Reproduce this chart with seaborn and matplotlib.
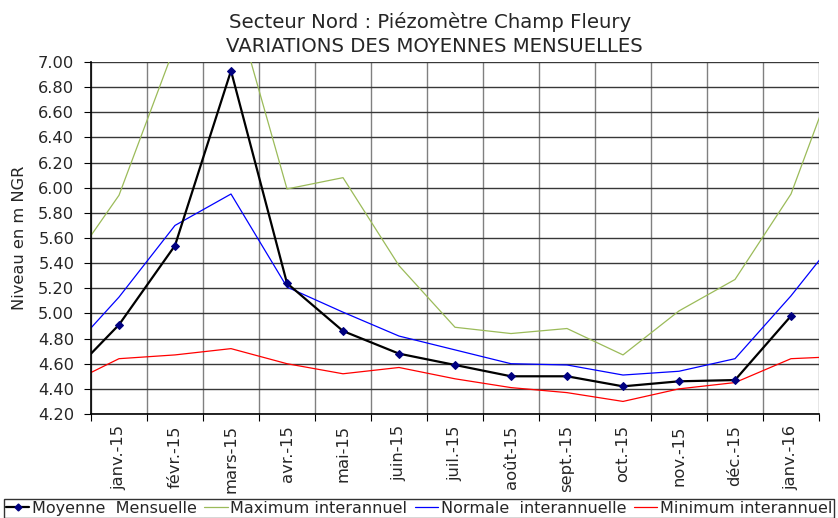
import numpy as np
import pandas as pd
import matplotlib
matplotlib.use("Agg")
from matplotlib import pyplot as plt
from matplotlib.lines import Line2D
import seaborn as sns

# months (déc.-14 and févr.-16 only serve the line ends, clipped by the axis)
mois = ["déc.-14", "janv.-15", "févr.-15", "mars-15", "avr.-15", "mai-15", "juin-15",
        "juil.-15", "août-15", "sept.-15", "oct.-15", "nov.-15", "déc.-15", "janv.-16", "févr.-16"]
tick_labels = mois[1:-1]

moyenne = [4.45, 4.91, 5.54, 6.93, 5.24, 4.86, 4.68, 4.59, 4.50, 4.50, 4.42, 4.46, 4.47, 4.98, np.nan]
maximum = [5.30, 5.94, 7.13, 7.56, 5.99, 6.08, 5.38, 4.89, 4.84, 4.88, 4.67, 5.02, 5.27, 5.95, 7.15]
normale = [4.64, 5.13, 5.70, 5.95, 5.21, 5.01, 4.82, 4.71, 4.60, 4.59, 4.51, 4.54, 4.64, 5.14, 5.70]
minimum = [4.42, 4.64, 4.67, 4.72, 4.60, 4.52, 4.57, 4.48, 4.41, 4.37, 4.30, 4.40, 4.45, 4.64, 4.66]

df = pd.DataFrame({"pos": np.arange(len(mois)) - 1, "mois": mois,
                   "moyenne": moyenne, "maximum": maximum,
                   "normale": normale, "minimum": minimum})

sns.set_style("white")
plt.rcParams["font.family"] = ["DejaVu Sans"]

my_dpi = 100
fig = plt.figure(figsize=(838 / my_dpi, 518 / my_dpi), dpi=my_dpi)
ax = fig.add_axes([91 / 838, 1 - 414 / 518, (819 - 91) / 838, (414 - 62) / 518])

green = "#9BBB59"
sns.lineplot(data=df, x="pos", y="maximum", color=green, lw=0.9, ax=ax)
sns.lineplot(data=df, x="pos", y="normale", color="#0000FF", lw=0.9, ax=ax)
sns.lineplot(data=df, x="pos", y="minimum", color="#FF0000", lw=0.9, ax=ax)
sns.lineplot(data=df, x="pos", y="moyenne", color="black", lw=1.6, ax=ax,
             marker="D", markersize=4.5, markerfacecolor="#000080", markeredgecolor="#000080")

ax.set_xlim(-0.5, len(tick_labels) - 0.5)
ax.set_ylim(4.2, 7.0)
ax.set_yticks(np.arange(4.2, 7.01, 0.2))
ax.set_yticklabels([f"{v:.2f}" for v in np.arange(4.2, 7.01, 0.2)], fontsize=11.7)
ax.set_xticks(np.arange(len(tick_labels) + 1) - 0.5)
ax.set_xticklabels([])
ax.set_xticks(np.arange(len(tick_labels)), minor=True)
ax.set_xticklabels(tick_labels, minor=True, rotation=90, fontsize=11.8)
ax.tick_params(axis="x", which="minor", length=0, pad=8)
ax.tick_params(axis="x", which="major", length=5, direction="out", color="black", bottom=True)
ax.tick_params(axis="y", length=5, direction="out", color="black", left=True, pad=7)
ax.grid(axis="y", color="#383838", lw=1)
ax.grid(axis="x", which="major", color="#808080", lw=1)
ax.set_axisbelow(True)
for s in ["top", "right"]:
    ax.spines[s].set_visible(False)
for s in ["left", "bottom"]:
    ax.spines[s].set_color("black")
    ax.spines[s].set_linewidth(1.2)
ax.set_xlabel("")
ax.set_ylabel("")

fig.text(20 / 838, 1 - 238 / 518, "Niveau en m NGR", rotation=90, ha="center", va="center", fontsize=11.7)
fig.text(430 / 838, 1 - 22 / 518, "Secteur Nord : Piézomètre Champ Fleury", ha="center", va="center", fontsize=14.2)
fig.text(434 / 838, 1 - 47 / 518, "VARIATIONS DES MOYENNES MENSUELLES", ha="center", va="center", fontsize=14.2)

handles = [
    Line2D([], [], color="black", lw=1.6, marker="D", markersize=3.5,
           markerfacecolor="#000080", markeredgecolor="#000080"),
    Line2D([], [], color=green, lw=0.9),
    Line2D([], [], color="#0000FF", lw=0.9),
    Line2D([], [], color="#FF0000", lw=0.9),
]
labels = ["Moyenne  Mensuelle", "Maximum interannuel", "Normale  interannuelle", "Minimum interannuel"]
leg = fig.legend(handles, labels, loc="lower center", bbox_to_anchor=(0.5, 0.0), ncol=4,
                 fontsize=11.5, frameon=True, fancybox=False, edgecolor="black",
                 handlelength=1.45, handletextpad=0.15, columnspacing=0.5, borderpad=0.12,
                 borderaxespad=0.0)
leg.get_frame().set_linewidth(1.0)

plt.savefig("out.png", dpi=my_dpi)
